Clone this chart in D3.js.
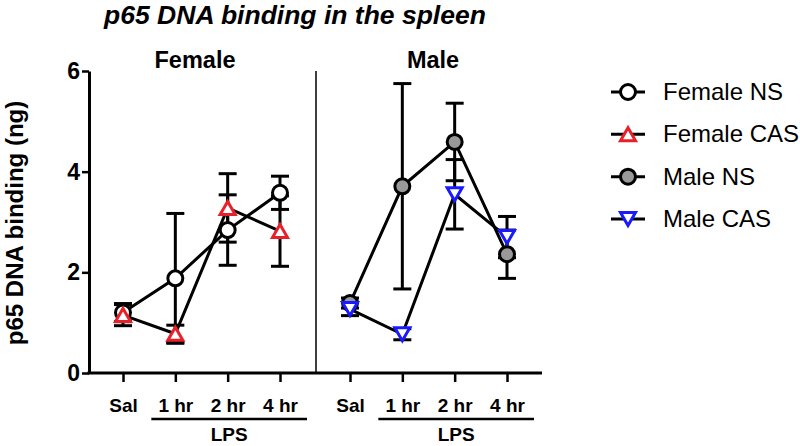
<!DOCTYPE html>
<html>
<head>
<meta charset="utf-8">
<script src="https://cdn.jsdelivr.net/npm/d3@7"></script>
<style>
  body { margin: 0; background: #fff; }
  svg { display: block; font-family: "Liberation Sans", Arial, sans-serif; }
</style>
</head>
<body>
<svg id="chart" width="800" height="446"></svg>
<script>
// ---- data ----
const timepoints = ["Sal", "1 hr", "2 hr", "4 hr"];
const yTicks = [0, 2, 4, 6];

const femaleNS     = [1.20, 1.88, 2.84, 3.58];
const femaleNSErr  = [0.18, 1.29, 0.70, 0.33];
const femaleCAS    = [1.15, 0.78, 3.28, 2.82];
const femaleCASErr = [0.21, 0.17, 0.68, 0.70];
const maleNS       = [1.39, 3.71, 4.59, 2.36];
const maleNSErr    = [0.10, 2.04, 0.77, 0.48];
const maleCAS      = [1.27, 0.77, 3.55, 2.70];
const maleCASErr   = [0.13, 0.11, 0.69, 0.41];

const panelNames = ["Female", "Male"];
const legendNames = ["Female NS", "Female CAS", "Male NS", "Male CAS"];

// ---- layout ----
const svg = d3.select("#chart");
const FONT = "'Liberation Sans', Arial, sans-serif";
const y = d3.scaleLinear().domain([0, 6]).range([373, 71]);
const xLeft = d3.scalePoint().domain(timepoints).range([123, 280]);
const xRight = d3.scalePoint().domain(timepoints).range([350, 507]);
const axisX0 = 89, axisX1 = 542, divX = 316;

const RED = "#e8202a", BLUE = "#1a1aff", GREY = "#999999";

const series = [
  { name: legendNames[0], vals: femaleNS, err: femaleNSErr, x: xLeft, shape: "circle", fill: "#fff", stroke: "#000" },
  { name: legendNames[1], vals: femaleCAS, err: femaleCASErr, x: xLeft, shape: "up", fill: "#fff", stroke: RED },
  { name: legendNames[2], vals: maleNS, err: maleNSErr, x: xRight, shape: "circle", fill: GREY, stroke: "#000" },
  { name: legendNames[3], vals: maleCAS, err: maleCASErr, x: xRight, shape: "down", fill: "#fff", stroke: BLUE }
];

// title
svg.append("text").attr("x", 295).attr("y", 24).attr("text-anchor", "middle")
  .attr("font-family", FONT).attr("font-size", 26.5).attr("font-weight", "bold").attr("font-style", "italic")
  .text("p65 DNA binding in the spleen");

// panel headers
[[panelNames[0], 195], [panelNames[1], 433]].forEach(([t, cx]) => {
  svg.append("text").attr("x", cx).attr("y", 68).attr("text-anchor", "middle")
    .attr("font-family", FONT).attr("font-size", 23.5).attr("font-weight", "bold").text(t);
});

// y axis
const yAxis = d3.axisLeft(y).tickValues(yTicks).tickFormat(d3.format("d")).tickSize(7).tickSizeOuter(0).tickPadding(2);
const gy = svg.append("g").attr("transform", `translate(${axisX0},0)`).call(yAxis);
gy.select(".domain").attr("stroke-width", 3).attr("stroke", "#000");
gy.selectAll(".tick line").attr("stroke-width", 2.5).attr("stroke", "#000");
gy.selectAll(".tick text").attr("font-family", FONT).attr("font-size", 23).attr("font-weight", "bold").attr("fill", "#000");

// y label
svg.append("text").attr("transform", `translate(23,223) rotate(-90)`).attr("text-anchor", "middle")
  .attr("font-family", FONT).attr("font-size", 24).attr("font-weight", "bold").text("p65 DNA binding (ng)");

// x axis line
svg.append("line").attr("x1", axisX0 - 1.5).attr("x2", axisX1).attr("y1", y(0)).attr("y2", y(0))
  .attr("stroke", "#000").attr("stroke-width", 3);
// divider
svg.append("line").attr("x1", divX).attr("x2", divX).attr("y1", y(6)).attr("y2", y(0))
  .attr("stroke", "#000").attr("stroke-width", 1.5);

// x ticks and labels
[xLeft, xRight].forEach(xs => {
  const ax = d3.axisBottom(xs).tickSize(9).tickSizeOuter(0).tickPadding(17);
  const g = svg.append("g").attr("transform", `translate(0,${y(0)})`).call(ax);
  g.select(".domain").remove();
  g.selectAll(".tick line").attr("stroke-width", 2.5).attr("stroke", "#000");
  g.selectAll(".tick text").attr("font-family", FONT).attr("font-size", 19).attr("font-weight", "bold").attr("fill", "#000");
  const x1 = xs(timepoints[1]) - 24, x2 = xs(timepoints[3]) + 27;
  svg.append("line").attr("x1", x1).attr("x2", x2).attr("y1", 419).attr("y2", 419)
    .attr("stroke", "#000").attr("stroke-width", 2.5);
  svg.append("text").attr("x", (x1 + x2) / 2).attr("y", 441).attr("text-anchor", "middle")
    .attr("font-family", FONT).attr("font-size", 19).attr("font-weight", "bold").text("LPS");
});

// marker drawing
function marker(g, s, cx, cy) {
  if (s.shape === "circle") {
    g.append("circle").attr("cx", cx).attr("cy", cy).attr("r", 7.5)
      .attr("fill", s.fill).attr("stroke", s.stroke).attr("stroke-width", 3);
  } else {
    const h = 13, w = 15;
    const pts = s.shape === "up"
      ? [[cx, cy - h / 2], [cx + w / 2, cy + h / 2], [cx - w / 2, cy + h / 2]]
      : [[cx, cy + h / 2], [cx + w / 2, cy - h / 2], [cx - w / 2, cy - h / 2]];
    g.append("polygon").attr("points", pts.map(p => p.join(",")).join(" "))
      .attr("fill", s.fill).attr("stroke", s.stroke).attr("stroke-width", 3).attr("stroke-linejoin", "miter");
  }
}

const plot = svg.append("g");
// error bars
series.forEach(s => {
  s.vals.forEach((v, i) => {
    const cx = s.x(timepoints[i]);
    const hi = y(v + s.err[i]), lo = y(v - s.err[i]);
    plot.append("line").attr("x1", cx).attr("x2", cx).attr("y1", hi).attr("y2", lo).attr("stroke", "#000").attr("stroke-width", 3);
    [hi, lo].forEach(yy => plot.append("line").attr("x1", cx - 9).attr("x2", cx + 9).attr("y1", yy).attr("y2", yy)
      .attr("stroke", "#000").attr("stroke-width", 3));
  });
});
// lines
const line = d3.line();
series.forEach(s => {
  plot.append("path").attr("d", line(s.vals.map((v, i) => [s.x(timepoints[i]), y(v)])))
    .attr("fill", "none").attr("stroke", "#000").attr("stroke-width", 3);
});
// markers: NS first then CAS on top
[series[0], series[2], series[1], series[3]].forEach(s => {
  s.vals.forEach((v, i) => marker(plot, s, s.x(timepoints[i]), y(v)));
});

// legend
const legY = d3.scalePoint().domain(legendNames).range([92, 219]);
series.forEach(s => {
  const ly = legY(s.name);
  const g = svg.append("g");
  g.append("line").attr("x1", 611).attr("x2", 645).attr("y1", ly).attr("y2", ly).attr("stroke", "#000").attr("stroke-width", 3);
  marker(g, s, 628, ly);
  g.append("text").attr("x", 663).attr("y", ly + 8).attr("font-family", FONT).attr("font-size", 24).text(s.name);
});
</script>
</body>
</html>
